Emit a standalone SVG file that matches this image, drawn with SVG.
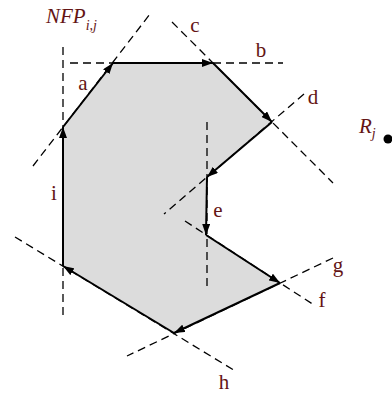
<svg xmlns="http://www.w3.org/2000/svg" width="392" height="394" viewBox="0 0 392 394">
<style>
.dash{stroke:#000;stroke-width:1.3;stroke-dasharray:8 5;fill:none}
.edge{stroke:#000;stroke-width:2;fill:none;marker-end:url(#arr)}
.lbl{font-family:"Liberation Serif",serif;font-size:21px;fill:#641414;text-anchor:middle}
.it{font-style:italic}
</style>
<defs>
<marker id="arr" markerUnits="userSpaceOnUse" markerWidth="11" markerHeight="8" refX="11" refY="4" orient="auto">
<path d="M0,0 L11,4 L0,8 z" fill="#000"/>
</marker>
</defs>
<rect width="392" height="394" fill="#fff"/>
<g id="region">
<polygon points="63,127 113,63 213,63 272,122 207,177 206,235 280,283 174,333 63,266" fill="#dcdcdc" stroke="none"/>
</g>
<g id="extensions">
<line class="dash" x1="63" y1="47" x2="63" y2="320"/>
<line class="dash" x1="70" y1="63" x2="283" y2="63"/>
<line class="dash" x1="33" y1="166" x2="150" y2="14"/>
<line class="dash" x1="172" y1="22" x2="333" y2="183"/>
<line class="dash" x1="304" y1="94" x2="164" y2="214"/>
<line class="dash" x1="207" y1="122" x2="207" y2="291"/>
<line class="dash" x1="185" y1="221" x2="314" y2="305"/>
<line class="dash" x1="333" y1="258" x2="127" y2="356"/>
<line class="dash" x1="15" y1="237" x2="237" y2="372"/>
</g>
<g id="edges">
<line class="edge" x1="63" y1="127" x2="113" y2="63"/>
<line class="edge" x1="113" y1="63" x2="213" y2="63"/>
<line class="edge" x1="213" y1="63" x2="272" y2="122"/>
<line class="edge" x1="272" y1="122" x2="207" y2="177"/>
<line class="edge" x1="207" y1="177" x2="206" y2="235"/>
<line class="edge" x1="206" y1="235" x2="280" y2="283"/>
<line class="edge" x1="280" y1="283" x2="174" y2="333"/>
<line class="edge" x1="174" y1="333" x2="63" y2="266"/>
<line class="edge" x1="63" y1="266" x2="63" y2="127"/>
</g>
<g id="labels">
<text class="lbl it" x="46" y="23" style="text-anchor:start">NFP<tspan font-size="14" dy="7">i,j</tspan></text>
<text class="lbl" x="83" y="90">a</text>
<text class="lbl" x="261" y="57">b</text>
<text class="lbl" x="195" y="32">c</text>
<text class="lbl" x="313" y="104">d</text>
<text class="lbl" x="218" y="217">e</text>
<text class="lbl" x="322" y="307">f</text>
<text class="lbl" x="338" y="272">g</text>
<text class="lbl" x="224" y="389">h</text>
<text class="lbl" x="54" y="200">i</text>
</g>
<g id="Rj">
<text class="lbl it" x="359" y="133" style="text-anchor:start">R<tspan font-size="14" dy="5">j</tspan></text>
<circle cx="388" cy="139" r="4.5" fill="#000"/>
</g>
</svg>
